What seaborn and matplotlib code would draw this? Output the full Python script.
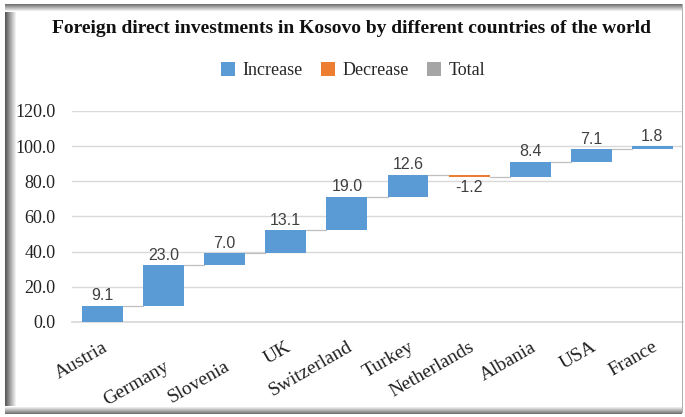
import numpy as np
import matplotlib
matplotlib.use("Agg")
import matplotlib.pyplot as plt
import matplotlib.transforms as mtransforms
from matplotlib.patches import Patch, Rectangle
import seaborn as sns

# Data
countries = ["Austria", "Germany", "Slovenia", "UK", "Switzerland",
             "Turkey", "Netherlands", "Albania", "USA", "France"]
changes = [9.1, 23.0, 7.0, 13.1, 19.0, 12.6, -1.2, 8.4, 7.1, 1.8]
kinds = ["Increase", "Increase", "Increase", "Increase", "Increase",
         "Increase", "Decrease", "Increase", "Increase", "Increase"]
legend_labels = ["Increase", "Decrease", "Total"]
y_ticks = [0, 20, 40, 60, 80, 100, 120]

colors = {"Increase": "#5B9BD5", "Decrease": "#ED7D31", "Total": "#A5A5A5"}
serif = "Liberation Serif"

sns.set_theme(style="white")
plt.rcParams["font.family"] = [serif, "DejaVu Serif"]

ends = np.cumsum(changes)
starts = ends - np.array(changes)

fig = plt.figure(figsize=(6.85, 4.17), dpi=100)
ax = fig.add_axes([0.105, 0.228, 0.892, 0.506])

bar_w = 0.67
sns.barplot(x=countries, y=changes, color=colors["Increase"], width=bar_w,
            saturation=1, ax=ax, zorder=3)

# turn plain bars into waterfall steps
for patch, s, c, k in zip(ax.patches, starts, changes, kinds):
    patch.set_y(s)
    patch.set_height(c)
    patch.set_facecolor(colors[k])
    patch.set_edgecolor("none")

# connector lines
for i in range(len(countries) - 1):
    ax.plot([i + bar_w / 2, i + 1 - bar_w / 2], [ends[i], ends[i]],
            color="#bfbfbf", lw=0.9, zorder=2)

# value labels
for i, (c, e) in enumerate(zip(changes, ends)):
    if c >= 0:
        ax.text(i, e + 1.5, f"{c:.1f}", ha="center", va="bottom",
                fontsize=11.5, color="#404040", family="Liberation Sans")
    else:
        ax.text(i, e - 2.0, f"{c:.1f}", ha="center", va="top",
                fontsize=11.5, color="#404040", family="Liberation Sans")

ax.set_ylim(0, 120)
ax.set_xlim(-0.5, len(countries) - 0.5)
ax.set_yticks(y_ticks)
ax.set_yticklabels([f"{v:.1f}" for v in y_ticks], fontsize=13, color="#222222")
ax.yaxis.grid(True, color="#d9d9d9", lw=1.0)
ax.set_axisbelow(True)
for side in ["left", "right", "top"]:
    ax.spines[side].set_visible(False)
ax.spines["bottom"].set_color("#d9d9d9")
ax.spines["bottom"].set_zorder(1)
ax.tick_params(axis="both", length=0)
ax.tick_params(axis="y", pad=12)
ax.tick_params(axis="x", pad=12)
ax.set_xlabel("")
ax.set_ylabel("")

# rotated country labels, Germany and Slovenia sit lower
drops = [0, 19, 19, 0, 0, 0, 0, 0, 0, 0]
for lab, d in zip(ax.get_xticklabels(), drops):
    lab.set_rotation(30)
    lab.set_ha("right")
    lab.set_va("top")
    lab.set_rotation_mode("anchor")
    lab.set_fontsize(14)
    lab.set_color("#222222")
    if d:
        lab.set_transform(lab.get_transform() +
                          mtransforms.ScaledTranslation(0, -d / 100, fig.dpi_scale_trans))

fig.text(0.513, 0.932, "Foreign direct investments in Kosovo by different countries of the world",
         ha="center", va="center", fontsize=14, fontweight="bold", color="#111111")

handles = [Patch(facecolor=colors[k], edgecolor="none") for k in legend_labels]
fig.legend(handles, legend_labels, loc="center", bbox_to_anchor=(0.515, 0.83),
           ncol=3, frameon=False, fontsize=13, handlelength=0.8, handleheight=0.8,
           handletextpad=0.4, columnspacing=1.0)

# picture frame with a soft shadow on the left, top and bottom
W, H = 685, 417
for k in range(12):
    g = 0.35 + 0.65 * k / 11
    fig.patches.append(Rectangle((5 + k, 4), 1, H - 8, transform=None,
                                 facecolor=(g, g, g), edgecolor="none"))
for k in range(8):
    g = 0.45 + 0.55 * k / 7
    fig.patches.append(Rectangle((5, H - 4 - k - 1), W - 8, 1, transform=None,
                                 facecolor=(g, g, g), edgecolor="none"))
    fig.patches.append(Rectangle((5, 3 + k), W - 8, 1, transform=None,
                                 facecolor=(g, g, g), edgecolor="none"))
fig.patches.append(Rectangle((W - 3, 4), 1, H - 8, transform=None,
                             facecolor="#b0b0b0", edgecolor="none"))

fig.savefig("out.png", dpi=100, facecolor="white")
